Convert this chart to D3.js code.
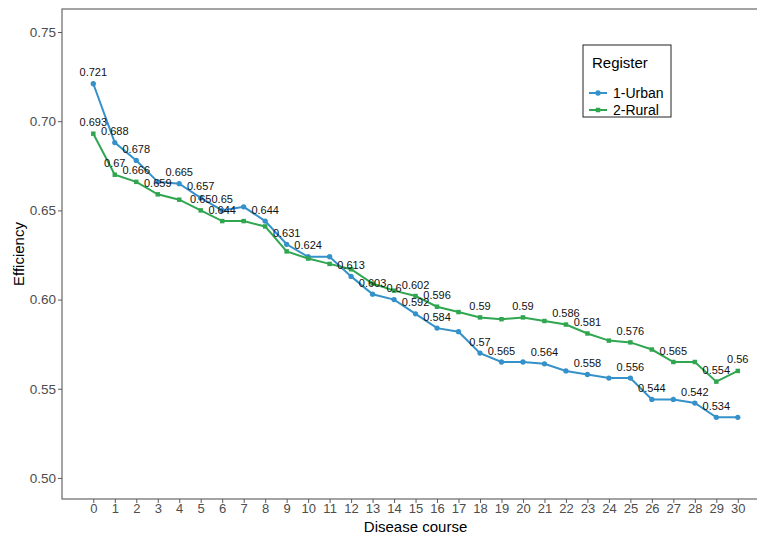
<!DOCTYPE html>
<html>
<head>
<meta charset="utf-8">
<script src="https://cdn.jsdelivr.net/npm/d3@7"></script>
<style>
  html, body { margin: 0; padding: 0; background: #fff; }
  svg { display: block; font-family: "Liberation Sans", Arial, sans-serif; }
</style>
</head>
<body>
<svg id="chart" width="757" height="537"></svg>
<script>
// Disease course steps (x axis)
const course = d3.range(0, 31);

// Efficiency by register
const urban = [0.721, 0.688, 0.678, 0.666, 0.665, 0.657, 0.65, 0.652, 0.644, 0.631,
               0.624, 0.624, 0.613, 0.603, 0.6, 0.592, 0.584, 0.582, 0.57, 0.565,
               0.565, 0.564, 0.56, 0.558, 0.556, 0.556, 0.544, 0.544, 0.542, 0.534, 0.534];
const rural = [0.693, 0.67, 0.666, 0.659, 0.656, 0.65, 0.644, 0.644, 0.641, 0.627,
               0.623, 0.62, 0.617, 0.609, 0.605, 0.602, 0.596, 0.593, 0.59, 0.589,
               0.59, 0.588, 0.586, 0.581, 0.577, 0.576, 0.572, 0.565, 0.565, 0.554, 0.56];

// Points whose value labels survive overlap removal
const urbanLabelled = [0, 1, 2, 4, 5, 6, 8, 9, 10, 12, 13, 14, 15, 16, 18, 19, 21, 23, 25, 26, 28, 29];
const ruralLabelled = [0, 1, 2, 3, 5, 6, 15, 16, 18, 20, 22, 23, 25, 27, 29, 30];

const yTicks = [0.50, 0.55, 0.60, 0.65, 0.70, 0.75];
const seriesNames = ["1-Urban", "2-Rural"];
const seriesColors = ["#3591c9", "#2fa64f"];
const legendTitle = "Register";

const svg = d3.select("#chart");
const panel = { left: 62, right: 770, top: 9, bottom: 499 };

const x = d3.scaleLinear().domain([0, 30]).range([93.3, 737.8]);
const y = d3.scaleLinear().domain([0.4882, 0.7629]).range([panel.bottom, panel.top]);

// Panel frame
svg.append("rect")
  .attr("x", panel.left).attr("y", panel.top)
  .attr("width", panel.right - panel.left).attr("height", panel.bottom - panel.top)
  .attr("fill", "none").attr("stroke", "#5a5a5a").attr("stroke-width", 1.1);

// Y axis
const yAxis = svg.append("g")
  .attr("transform", `translate(${panel.left},0)`)
  .call(d3.axisLeft(y).tickValues(yTicks).tickFormat(d3.format(".2f")).tickSize(4).tickPadding(2));
yAxis.select(".domain").remove();
yAxis.selectAll("line").attr("stroke", "#5a5a5a");
yAxis.selectAll("text").attr("font-size", 13.5).attr("fill", "#4d4d4d")
  .attr("font-family", "Liberation Sans, Arial, sans-serif");

// X axis
const xAxis = svg.append("g")
  .attr("transform", `translate(0,${panel.bottom})`)
  .call(d3.axisBottom(x).tickValues(course).tickFormat(d3.format("d")).tickSize(4).tickPadding(1));
xAxis.select(".domain").remove();
xAxis.selectAll("line").attr("stroke", "#5a5a5a");
xAxis.selectAll("text").attr("font-size", 13).attr("fill", "#4d4d4d")
  .attr("font-family", "Liberation Sans, Arial, sans-serif");

// Axis titles
svg.append("text")
  .attr("x", (93.3 + 737.8) / 2).attr("y", 532)
  .attr("text-anchor", "middle").attr("font-size", 15).attr("fill", "#000")
  .text("Disease course");
svg.append("text")
  .attr("transform", `translate(24,${(panel.top + panel.bottom) / 2}) rotate(-90)`)
  .attr("text-anchor", "middle").attr("font-size", 15).attr("fill", "#000")
  .text("Efficiency");

// Series
const series = [
  { values: urban, labelled: urbanLabelled, color: seriesColors[0], shape: "circle" },
  { values: rural, labelled: ruralLabelled, color: seriesColors[1], shape: "square" }
];

const line = d3.line().x((d, i) => x(course[i])).y(d => y(d));

series.forEach(s => {
  svg.append("path")
    .datum(s.values)
    .attr("d", line)
    .attr("fill", "none")
    .attr("stroke", s.color)
    .attr("stroke-width", 2);

  const sym = d3.symbol()
    .type(s.shape === "circle" ? d3.symbolCircle : d3.symbolSquare)
    .size(s.shape === "circle" ? 22 : 20);

  svg.append("g").selectAll("path")
    .data(s.values)
    .join("path")
    .attr("transform", (d, i) => `translate(${x(course[i])},${y(d)})`)
    .attr("d", sym)
    .attr("fill", s.color);
});

// Value labels
series.forEach(s => {
  svg.append("g").selectAll("text")
    .data(s.labelled)
    .join("text")
    .attr("x", i => x(course[i]))
    .attr("y", i => y(s.values[i]) - 7.5)
    .attr("text-anchor", "middle")
    .attr("font-size", 11)
    .attr("fill", "#111")
    .text(i => String(s.values[i]));
});

// Legend
const lg = svg.append("g").attr("transform", "translate(583,45)");
lg.append("rect").attr("width", 88).attr("height", 72)
  .attr("fill", "#fff").attr("stroke", "#222").attr("stroke-width", 1);
lg.append("text").attr("x", 9).attr("y", 23).attr("font-size", 15).attr("fill", "#000").text(legendTitle);
seriesNames.forEach((name, k) => {
  const cy = 48 + k * 17;
  const g = lg.append("g");
  g.append("line").attr("x1", 6).attr("x2", 24).attr("y1", cy).attr("y2", cy)
    .attr("stroke", seriesColors[k]).attr("stroke-width", 2);
  g.append("path").attr("transform", `translate(15,${cy})`)
    .attr("d", d3.symbol().type(k === 0 ? d3.symbolCircle : d3.symbolSquare).size(k === 0 ? 22 : 20))
    .attr("fill", seriesColors[k]);
  g.append("text").attr("x", 30).attr("y", cy + 5).attr("font-size", 14).attr("fill", "#000").text(name);
});
</script>
</body>
</html>
